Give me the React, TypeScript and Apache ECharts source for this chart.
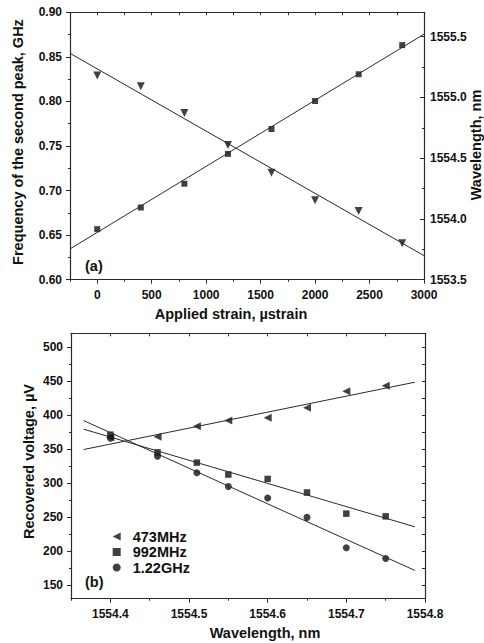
import React, { useEffect, useRef } from 'react';
import * as echarts from 'echarts';

// ---- Panel (a) data ----
const strain = [0, 400, 800, 1200, 1600, 2000, 2400, 2800];
const freqGHz = [0.829, 0.817, 0.787, 0.751, 0.72, 0.689, 0.677, 0.641];
const wavelengthNm = [1553.916, 1554.094, 1554.29, 1554.535, 1554.74, 1554.97, 1555.19, 1555.43];
const fitStrain = [-250, 3000];
const fitFreq = [0.854, 0.627];
const fitWavelength = [1553.753, 1555.52];

// ---- Panel (b) data ----
const wavelengthB = [1554.4, 1554.46, 1554.51, 1554.55, 1554.6, 1554.65, 1554.7, 1554.75];
const volt473 = [367, 368, 383.5, 392, 396, 410.5, 435, 443];
const volt992 = [371, 345, 330, 312.5, 306, 286, 255, 251];
const volt122 = [366, 339.5, 315, 295, 278, 249.5, 205, 189];
const fitWavelengthB = [1554.366, 1554.787];
const fit473 = [349.2, 448.1];
const fit992 = [379.1, 235.7];
const fit122 = [391.8, 171.6];

const legendNames = ['473MHz', '992MHz', '1.22GHz'];

// ---- Ticks ----
const strainTicks = [0, 500, 1000, 1500, 2000, 2500, 3000];
const strainMinor = [-250, 250, 750, 1250, 1750, 2250, 2750];
const freqTicks = [0.6, 0.65, 0.7, 0.75, 0.8, 0.85, 0.9];
const freqMinor = [0.625, 0.675, 0.725, 0.775, 0.825, 0.875];
const wlTicks = [1553.5, 1554.0, 1554.5, 1555.0, 1555.5];
const wlMinor = [1553.75, 1554.25, 1554.75, 1555.25];
const wlBTicks = [1554.4, 1554.5, 1554.6, 1554.7, 1554.8];
const wlBMinor = [1554.35, 1554.45, 1554.55, 1554.65, 1554.75];
const voltTicks = [150, 200, 250, 300, 350, 400, 450, 500];
const voltMinor = [175, 225, 275, 325, 375, 425, 475];

const FONT = "'Liberation Sans', Arial, sans-serif";
const AX = '#2a2a2a';
const INK = '#111';

function zip(xs: number[], ys: number[]) {
  return xs.map((x, i) => [x, ys[i]]);
}

function mkAxis(o: any) {
  return {
    type: 'value',
    gridIndex: o.grid,
    position: o.position,
    min: o.min,
    max: o.max,
    axisLine: { show: !!o.line, onZero: false, lineStyle: { color: AX, width: 1.2 } },
    axisTick: {
      show: true,
      customValues: o.ticks,
      length: o.len,
      inside: !!o.inside,
      lineStyle: { color: AX, width: 1 },
    },
    axisLabel: o.labels
      ? {
          show: true,
          customValues: o.labels,
          formatter: o.fmt,
          margin: o.margin,
          color: INK,
          fontFamily: FONT,
          fontWeight: 'bold',
          fontSize: 12,
        }
      : { show: false },
    splitLine: { show: false },
    minorTick: { show: false },
  };
}

function fitLine(x: number, y: number, xs: number[], ys: number[], name: string) {
  return {
    type: 'line',
    name,
    xAxisIndex: x,
    yAxisIndex: y,
    data: zip(xs, ys),
    showSymbol: false,
    symbol: 'none',
    lineStyle: { color: AX, width: 1 },
    silent: true,
  };
}

function scatter(x: number, y: number, xs: number[], ys: number[], name: string, symbol: string, size: number, rot = 0) {
  return {
    type: 'scatter',
    name,
    xAxisIndex: x,
    yAxisIndex: y,
    data: zip(xs, ys),
    symbol,
    symbolSize: size,
    symbolRotate: rot,
    itemStyle: { color: '#111' },
  };
}

const titleStyle = (text: string) => ({
  text,
  fill: INK,
  font: `bold 14.5px ${FONT}`,
  textAlign: 'center',
  textVerticalAlign: 'middle',
});

export default function App() {
  const ref = useRef<HTMLDivElement>(null);
  useEffect(() => {
    if (!ref.current) return;
    const chart = echarts.init(ref.current, null, { renderer: 'svg' });
    const f2 = (v: number) => v.toFixed(2);
    const f1 = (v: number) => v.toFixed(1);
    const f0 = (v: number) => String(Math.round(v));
    chart.setOption({
      animation: false,
      backgroundColor: '#fff',
      grid: [
        { left: 70, top: 12.3, width: 354, height: 267.4 },
        { left: 71, top: 333.3, width: 354, height: 265.4 },
      ],
      xAxis: [
        mkAxis({ grid: 0, position: 'bottom', min: -250, max: 3000, line: true, ticks: strainTicks, len: 4, labels: strainTicks, fmt: f0, margin: 9 }),
        mkAxis({ grid: 0, position: 'bottom', min: -250, max: 3000, ticks: strainMinor, len: 2 }),
        mkAxis({ grid: 0, position: 'top', min: -250, max: 3000, line: true, ticks: strainTicks.concat(strainMinor), len: 3, inside: true }),
        mkAxis({ grid: 1, position: 'bottom', min: 1554.35, max: 1554.8, line: true, ticks: wlBTicks, len: 4, labels: wlBTicks, fmt: f1, margin: 9 }),
        mkAxis({ grid: 1, position: 'bottom', min: 1554.35, max: 1554.8, ticks: wlBMinor, len: 2 }),
        mkAxis({ grid: 1, position: 'top', min: 1554.35, max: 1554.8, line: true, ticks: wlBTicks.concat(wlBMinor), len: 3, inside: true }),
      ],
      yAxis: [
        mkAxis({ grid: 0, position: 'left', min: 0.6, max: 0.9, line: true, ticks: freqTicks, len: 4, labels: freqTicks, fmt: f2, margin: 8 }),
        mkAxis({ grid: 0, position: 'left', min: 0.6, max: 0.9, ticks: freqMinor, len: 2 }),
        mkAxis({ grid: 0, position: 'right', min: 1553.5, max: 1555.7, line: true, ticks: wlTicks, len: 4, inside: true, labels: wlTicks, fmt: f1, margin: 6 }),
        mkAxis({ grid: 0, position: 'right', min: 1553.5, max: 1555.7, ticks: wlMinor, len: 2, inside: true }),
        mkAxis({ grid: 1, position: 'left', min: 130, max: 520, line: true, ticks: voltTicks, len: 4, labels: voltTicks, fmt: f0, margin: 8 }),
        mkAxis({ grid: 1, position: 'left', min: 130, max: 520, ticks: voltMinor, len: 2 }),
        mkAxis({ grid: 1, position: 'right', min: 130, max: 520, line: true, ticks: voltTicks.concat(voltMinor), len: 3, inside: true }),
      ],
      legend: {
        data: [
          { name: legendNames[0], icon: 'path://M0,4L8,0L8,8Z' },
          { name: legendNames[1] },
          { name: legendNames[2] },
        ],
        orient: 'vertical',
        left: 107.7,
        top: 524,
        itemWidth: 8,
        itemHeight: 8,
        itemGap: 0.5,
        selectedMode: false,
        textStyle: {
          fontFamily: FONT,
          fontWeight: 'bold',
          fontSize: 14.5,
          color: INK,
          lineHeight: 14,
          padding: [0, 0, 0, 7],
        },
      },
      series: [
        fitLine(0, 0, fitStrain, fitFreq, 'fitFreq'),
        fitLine(0, 2, fitStrain, fitWavelength, 'fitWl'),
        scatter(0, 0, strain, freqGHz, 'Frequency', 'triangle', 8, 180),
        scatter(0, 2, strain, wavelengthNm, 'Wavelength', 'rect', 6),
        fitLine(3, 4, fitWavelengthB, fit473, 'fit473'),
        fitLine(3, 4, fitWavelengthB, fit992, 'fit992'),
        fitLine(3, 4, fitWavelengthB, fit122, 'fit122'),
        scatter(3, 4, wavelengthB, volt473, legendNames[0], 'triangle', 8, 90),
        scatter(3, 4, wavelengthB, volt992, legendNames[1], 'rect', 6.5),
        scatter(3, 4, wavelengthB, volt122, legendNames[2], 'circle', 7),
      ],
      graphic: [
        { type: 'text', left: 85, top: 258, style: { text: '(a)', fill: INK, font: `bold 14.5px ${FONT}` } },
        { type: 'text', left: 85, top: 574, style: { text: '(b)', fill: INK, font: `bold 14.5px ${FONT}` } },
        { type: 'text', x: 231, y: 313.5, style: titleStyle('Applied strain, µstrain') },
        { type: 'text', x: 265, y: 633, style: titleStyle('Wavelength, nm') },
        { type: 'text', x: 18, y: 142, rotation: Math.PI / 2, style: titleStyle('Frequency of the second peak, GHz') },
        { type: 'text', x: 475.5, y: 145, rotation: Math.PI / 2, style: titleStyle('Wavelength, nm') },
        { type: 'text', x: 29, y: 461.5, rotation: Math.PI / 2, style: titleStyle('Recovered voltage, µV') },
      ],
    });
    return () => chart.dispose();
  }, []);
  return <div ref={ref} style={{ position: 'absolute', left: 0, top: 0, width: 484, height: 643 }} />;
}
